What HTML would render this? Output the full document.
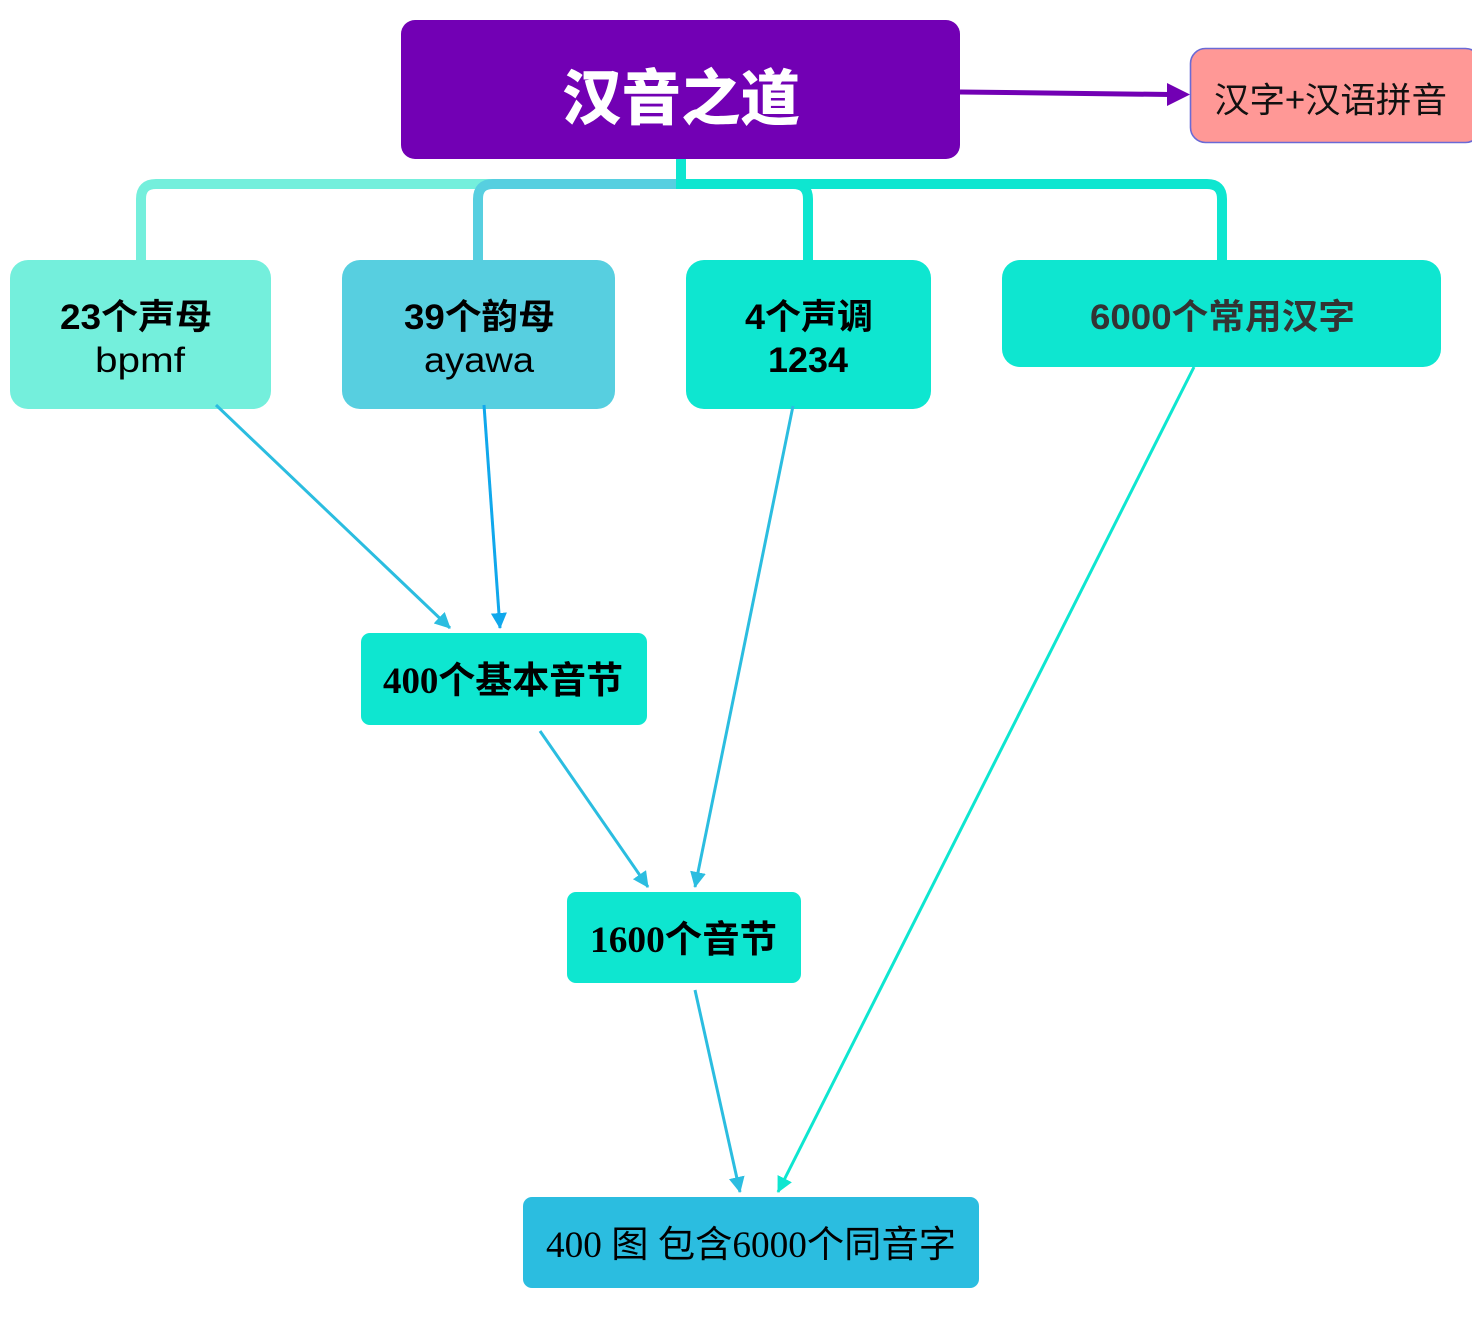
<!DOCTYPE html>
<html><head><meta charset="utf-8"><style>
html,body{margin:0;padding:0;background:#fff;}
svg{display:block;}
</style></head><body>
<svg width="1472" height="1319" viewBox="0 0 1472 1319" xmlns="http://www.w3.org/2000/svg">
<defs>
<marker id="mA" viewBox="0 0 16 16" refX="15" refY="8" markerWidth="16" markerHeight="16" markerUnits="userSpaceOnUse" orient="auto"><path d="M0,0 L16,8 L0,16 z" fill="#2bbde0"/></marker>
<marker id="mB" viewBox="0 0 16 16" refX="15" refY="8" markerWidth="16" markerHeight="16" markerUnits="userSpaceOnUse" orient="auto"><path d="M0,0 L16,8 L0,16 z" fill="#10a8ec"/></marker>
<marker id="mC" viewBox="0 0 16 16" refX="15" refY="8" markerWidth="16" markerHeight="16" markerUnits="userSpaceOnUse" orient="auto"><path d="M0,0 L16,8 L0,16 z" fill="#0ee6d0"/></marker>
</defs>

<!-- connectors -->
<path d="M681,184 H156 Q141,184 141,199 V262" fill="none" stroke="#74efdc" stroke-width="10"/>
<path d="M681,184 H493 Q478,184 478,199 V262" fill="none" stroke="#57cfe0" stroke-width="10"/>
<path d="M676,184 H793 Q808,184 808,199 V262" fill="none" stroke="#0ee6d0" stroke-width="10"/>
<path d="M676,184 H1207 Q1222,184 1222,199 V262" fill="none" stroke="#0ee6d0" stroke-width="10"/>
<path d="M681,155 V189" fill="none" stroke="#0ee6d0" stroke-width="10"/>

<!-- top box -->
<rect x="401" y="20" width="559" height="139" rx="14" fill="#7200b4"/>
<text x="681" y="94" text-anchor="middle" dominant-baseline="central" font-family="'Noto Sans CJK SC', sans-serif" font-weight="900" font-size="60" fill="#fff" textLength="238" lengthAdjust="spacingAndGlyphs">汉音之道</text>

<!-- purple arrow -->
<line x1="960" y1="92" x2="1170" y2="94.5" stroke="#7200b4" stroke-width="5"/>
<polygon points="1167,83 1190,94.5 1167,106" fill="#7200b4"/>

<!-- right box -->
<rect x="1190.5" y="48.5" width="290" height="94" rx="15" fill="#ff9896" stroke="#6a6ad6" stroke-width="1.6"/>
<text x="1330.5" y="98" text-anchor="middle" dominant-baseline="central" font-family="'Noto Sans CJK SC', sans-serif" font-size="35" fill="#111" textLength="233" lengthAdjust="spacingAndGlyphs">汉字+汉语拼音</text>

<!-- level 2 boxes -->
<rect x="10" y="260" width="261" height="149" rx="18" fill="#74efdc"/>
<text x="136" y="329" text-anchor="middle" font-family="'Liberation Sans','Noto Sans CJK SC',sans-serif" font-weight="bold" font-size="35" fill="#000" textLength="152" lengthAdjust="spacingAndGlyphs">23个声母</text>
<text x="140" y="372" text-anchor="middle" font-family="'Liberation Sans',sans-serif" font-size="35" fill="#000" textLength="90" lengthAdjust="spacingAndGlyphs">bpmf</text>

<rect x="342" y="260" width="273" height="149" rx="18" fill="#57cfe0"/>
<text x="479.5" y="329" text-anchor="middle" font-family="'Liberation Sans','Noto Sans CJK SC',sans-serif" font-weight="bold" font-size="35" fill="#000" textLength="151" lengthAdjust="spacingAndGlyphs">39个韵母</text>
<text x="479" y="372" text-anchor="middle" font-family="'Liberation Sans',sans-serif" font-size="35" fill="#000" textLength="110" lengthAdjust="spacingAndGlyphs">ayawa</text>

<rect x="686" y="260" width="245" height="149" rx="18" fill="#0ee6d0"/>
<text x="809" y="329" text-anchor="middle" font-family="'Liberation Sans','Noto Sans CJK SC',sans-serif" font-weight="bold" font-size="35" fill="#000" textLength="128" lengthAdjust="spacingAndGlyphs">4个声调</text>
<text x="808" y="372" text-anchor="middle" font-family="'Liberation Sans',sans-serif" font-weight="bold" font-size="35" fill="#000" textLength="80" lengthAdjust="spacingAndGlyphs">1234</text>

<rect x="1002" y="260" width="439" height="107" rx="18" fill="#0ee6d0"/>
<text x="1222.5" y="329" text-anchor="middle" font-family="'Liberation Sans','Noto Sans CJK SC',sans-serif" font-weight="bold" font-size="35" fill="#333" textLength="265" lengthAdjust="spacingAndGlyphs">6000个常用汉字</text>

<!-- thin arrows -->
<line x1="216" y1="405" x2="450" y2="628" stroke="#2bbde0" stroke-width="3" marker-end="url(#mA)"/>
<line x1="484" y1="405" x2="500" y2="628" stroke="#10a8ec" stroke-width="3" marker-end="url(#mB)"/>
<line x1="793" y1="406" x2="695" y2="887" stroke="#2bbde0" stroke-width="3" marker-end="url(#mA)"/>
<line x1="1194" y1="367" x2="778" y2="1192" stroke="#0ee6d0" stroke-width="3" marker-end="url(#mC)"/>
<line x1="540" y1="731" x2="648" y2="887" stroke="#2bbde0" stroke-width="3" marker-end="url(#mA)"/>
<line x1="695" y1="990" x2="740" y2="1192" stroke="#2bbde0" stroke-width="3" marker-end="url(#mA)"/>

<!-- lower boxes -->
<rect x="361" y="633" width="286" height="92" rx="9" fill="#0ee6d0"/>
<text x="503" y="693" text-anchor="middle" font-family="'Liberation Serif','Noto Sans CJK SC',serif" font-weight="bold" font-size="37" fill="#000" textLength="240" lengthAdjust="spacingAndGlyphs">400个基本音节</text>

<rect x="567" y="892" width="234" height="91" rx="9" fill="#0ee6d0"/>
<text x="683.5" y="952" text-anchor="middle" font-family="'Liberation Serif','Noto Sans CJK SC',serif" font-weight="bold" font-size="37" fill="#000" textLength="187" lengthAdjust="spacingAndGlyphs">1600个音节</text>

<rect x="523" y="1197" width="456" height="91" rx="9" fill="#2bbde0"/>
<text x="751" y="1257" text-anchor="middle" font-family="'Liberation Serif','Noto Sans CJK SC',serif" font-size="37" fill="#000" textLength="410" lengthAdjust="spacingAndGlyphs">400 图 包含6000个同音字</text>
</svg>
</body></html>
